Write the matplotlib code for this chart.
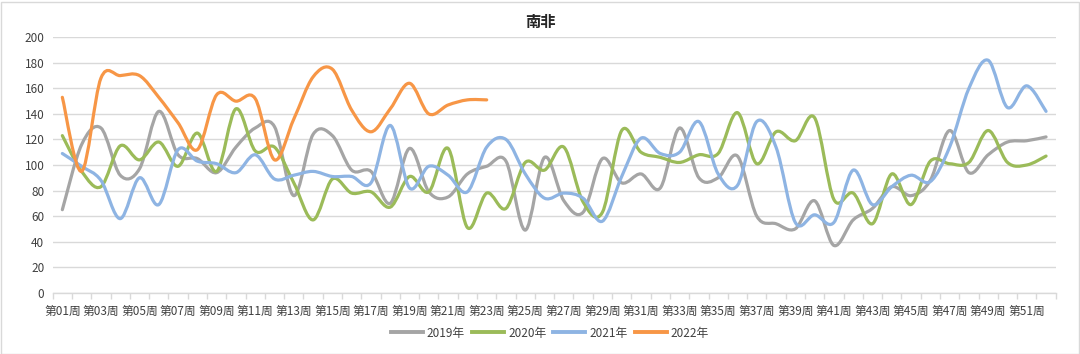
import matplotlib
matplotlib.use("Agg")
import matplotlib.pyplot as plt
from matplotlib.path import Path
from matplotlib.patches import PathPatch, Rectangle
from matplotlib.lines import Line2D
import numpy as np

plt.rcParams['font.family'] = ['Noto Sans CJK SC', 'DejaVu Sans']

title = "南非"
weeks = list(range(1, 53))
week_labels = [f"第{w:02d}周" for w in weeks]

y2019 = [65, 116, 129, 92, 97, 142, 108, 105, 94, 114, 129, 130, 76, 124, 123, 96, 95, 70, 113, 79,
         75, 93, 99, 103, 49, 106, 72, 63, 105, 86, 93, 82, 129, 90, 90, 107, 60, 54, 50, 72,
         37, 57, 66, 83, 76, 88, 127, 94, 108, 118, 119, 122]
y2020 = [123, 95, 83, 115, 104, 118, 99, 125, 95, 144, 111, 114, 86, 57, 89, 78, 79, 67, 91, 79,
         113, 51, 78, 66, 102, 96, 114, 71, 63, 127, 110, 106, 102, 108, 109, 141, 101, 126, 119, 137,
         73, 78, 54, 93, 69, 103, 101, 102, 127, 102, 100, 107]
y2021 = [109, 99, 88, 58, 90, 69, 112, 103, 101, 94, 108, 89, 92, 95, 91, 91, 86, 131, 82, 99,
         92, 79, 114, 120, 93, 74, 78, 74, 56, 91, 121, 109, 110, 134, 93, 84, 134, 114, 55, 61,
         55, 96, 69, 83, 92, 87, 114, 160, 182, 145, 162, 142]
y2022 = [153, 95, 168, 170, 170, 153, 133, 112, 155, 150, 152, 104, 136, 169, 175, 143, 126, 144, 164, 140,
         147, 151, 151]

series_names = ["2019年", "2020年", "2021年", "2022年"]
series_vals = [y2019, y2020, y2021, y2022]
colors = ["#A5A5A5", "#9BBB59", "#8EB4E3", "#F79646"]

fig = plt.figure(figsize=(10.8, 3.54), dpi=100)
ax = fig.add_axes([52.7 / 1080, 1 - 292.7 / 354, (1055.7 - 52.7) / 1080, (292.7 - 37.3) / 354])


def smooth_path(xs, ys):
    xs = np.asarray(xs, float)
    ys = np.asarray(ys, float)
    n = len(xs)
    verts = [(xs[0], ys[0])]
    codes = [Path.MOVETO]
    for i in range(n - 1):
        x0, y0 = (xs[i - 1], ys[i - 1]) if i > 0 else (xs[i], ys[i])
        x1, y1 = xs[i], ys[i]
        x2, y2 = xs[i + 1], ys[i + 1]
        x3, y3 = (xs[i + 2], ys[i + 2]) if i + 2 < n else (x2, y2)
        c1 = (x1 + (x2 - x0) / 6, y1 + (y2 - y0) / 6)
        c2 = (x2 - (x3 - x1) / 6, y2 - (y3 - y1) / 6)
        verts += [c1, c2, (x2, y2)]
        codes += [Path.CURVE4] * 3
    return Path(verts, codes)


for name, vals, c in zip(series_names, series_vals, colors):
    xs = weeks[:len(vals)]
    p = smooth_path(xs, vals)
    ax.add_patch(PathPatch(p, facecolor='none', edgecolor=c, lw=2.3,
                           capstyle='round', joinstyle='round', zorder=3))

ax.set_xlim(0.5, 52.5)
ax.set_ylim(0, 200)
ax.set_yticks(range(0, 201, 20))
ax.yaxis.grid(True, color='#D9D9D9', lw=1)
ax.set_axisbelow(True)
for s in ['left', 'right', 'top']:
    ax.spines[s].set_visible(False)
ax.spines['bottom'].set_color('#D9D9D9')
ax.spines['bottom'].set_linewidth(1)
ax.tick_params(axis='y', length=0, pad=6, labelsize=8.5, labelcolor='#404040')

ax.set_xticks(weeks[::2])
ax.set_xticklabels(week_labels[::2])
ax.set_xticks(np.arange(0.5, 53, 1), minor=True)
ax.tick_params(axis='x', which='major', length=0, pad=9, labelsize=8.5, labelcolor='#404040')
ax.tick_params(axis='x', which='minor', length=4, color='#D9D9D9', width=1)

fig.text(0.5, 1 - 22 / 354, title, ha='center', va='center', fontsize=11,
         fontweight='bold', color='#262626')

handles = [Line2D([0], [0], color=c, lw=2.8) for c in colors]
fig.legend(handles, series_names, loc='center', bbox_to_anchor=(550 / 1080, 1 - 333 / 354),
           ncol=4, frameon=False, fontsize=8.5, handlelength=2.7, handletextpad=0.35,
           columnspacing=0.6, labelcolor='#404040')

fig.add_artist(Rectangle((0.5 / 1080, 0.5 / 354), 1078 / 1080, 352 / 354, transform=fig.transFigure,
                         fill=False, edgecolor='#D9D9D9', lw=1))

fig.savefig("out.png", dpi=100)
